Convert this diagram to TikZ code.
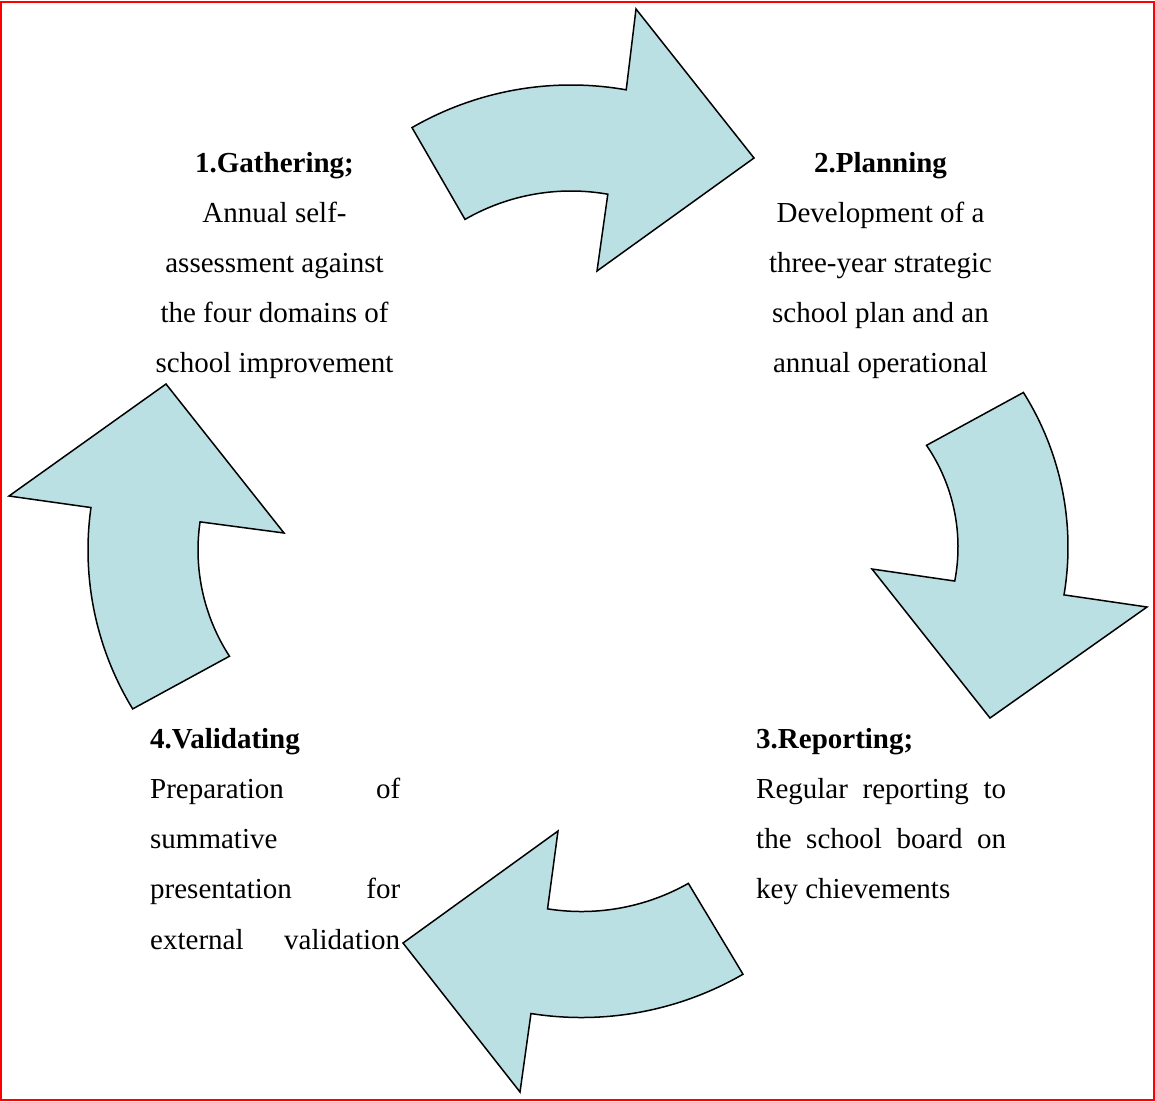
\documentclass[tikz,border=0pt]{standalone}
\usepackage{fontspec}
\setmainfont{Liberation Serif}
\definecolor{arrowfill}{RGB}{187,224,227}
\begin{document}
\begin{tikzpicture}[x=1pt,y=-1pt,
  arrowshape/.style={draw=black, fill=arrowfill, line width=1.5pt, line join=miter},
  frame/.style={draw=red, line width=2pt},
  txt/.style={inner sep=0pt, font=\fontsize{29}{35}\selectfont},
  head/.style={inner sep=0pt, font=\fontsize{29}{35}\selectfont\bfseries},
]
\useasboundingbox (0,0) rectangle (1155,1101);
\draw[frame] (1,1.5) rectangle (1154,1099.5);

% arrow 1 (top, pointing right)
\path[arrowshape] ([shift={(571,403)}]-120:318) arc[start angle=-120,end angle=-80,radius=318]
  -- (636,9) -- (754,158) -- (597,271)
  -- ([shift={(571,403)}]-80:212) arc[start angle=-80,end angle=-120,radius=212] -- cycle;

% arrow 2 (right, pointing down)
\path[arrowshape] ([shift={(778,547)}]-32.2:290) arc[start angle=-32.2,end angle=9.5,radius=290]
  -- (1147,607) -- (990,718) -- (872,569)
  -- ([shift={(778,547)}]10.9:180) arc[start angle=10.9,end angle=-34.4,radius=180] -- cycle;

% arrow 3 (bottom, pointing left)
\path[arrowshape] ([shift={(581.5,694.5)}]60:323) arc[start angle=60,end angle=99,radius=323]
  -- (520,1092) -- (403,943) -- (558,831)
  -- ([shift={(581.5,694.5)}]99:217) arc[start angle=99,end angle=60.5,radius=217] -- cycle;

% arrow 4 (left, pointing up)
\path[arrowshape] ([shift={(393,550)}]188:305) arc[start angle=188,end angle=148.6,radius=305]
  -- ([shift={(393,550)}]147:195) arc[start angle=147,end angle=188.3,radius=195]
  -- (284,533) -- (166,384) -- (9,496) -- cycle;

% block 1
\node[head, anchor=base] (g0) at (274.5,172) {1.Gathering;};
\node[txt, anchor=base] (g1) at (274.5,222.2) {Annual self-};
\node[txt, anchor=base] (g2) at (274.5,272.4) {assessment against};
\node[txt, anchor=base] (g3) at (274.5,322.6) {the four domains of};
\node[txt, anchor=base] (g4) at (274.5,372.8) {school improvement};

% block 2
\node[head, anchor=base] (p0) at (880.5,172) {2.Planning};
\node[txt, anchor=base] (p1) at (880.5,222.2) {Development of a};
\node[txt, anchor=base] (p2) at (880.5,272.4) {three-year strategic};
\node[txt, anchor=base] (p3) at (880.5,322.6) {school plan and an};
\node[txt, anchor=base] (p4) at (880.5,372.8) {annual operational};

% block 3
\node[head, anchor=base west] (r0) at (756,748) {3.Reporting;};
\node[txt, anchor=base west] (r1) at (756,798.3) {\makebox[250pt][s]{Regular reporting to}};
\node[txt, anchor=base west] (r2) at (756,848.6) {\makebox[250pt][s]{the school board on}};
\node[txt, anchor=base west] (r3) at (756,898.9) {key chievements};

% block 4
\node[head, anchor=base west] (v0) at (150,748) {4.Validating};
\node[txt, anchor=base west] (v1) at (150,798.3) {\makebox[250pt][s]{Preparation of}};
\node[txt, anchor=base west] (v2) at (150,848.6) {summative};
\node[txt, anchor=base west] (v3) at (150,898.9) {\makebox[250pt][s]{presentation for}};
\node[txt, anchor=base west] (v4) at (150,949.2) {\makebox[250pt][s]{external validation}};
\end{tikzpicture}
\end{document}
